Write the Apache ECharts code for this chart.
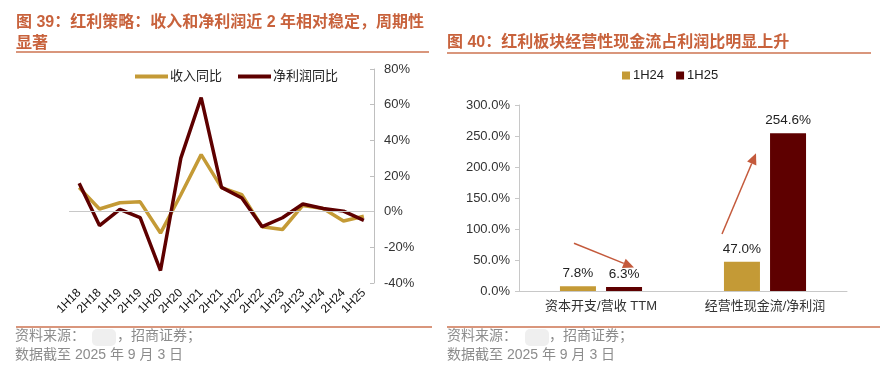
<!DOCTYPE html>
<html><head><meta charset="utf-8">
<script src="https://cdn.jsdelivr.net/npm/echarts@6/dist/echarts.min.js"></script>
<style>html,body{margin:0;padding:0;background:#fff}#c{width:896px;height:373px}</style>
</head><body><div id="c"></div>
<script>
// ---- data ----
var periods = ['1H18','2H18','1H19','2H19','1H20','2H20','1H21','2H21','1H22','2H22','1H23','2H23','1H24','2H24','1H25'];
var revenueYoY = [13.5, 1.5, 5.0, 5.5, -12, 9.5, 32, 13.5, 9.5, -8.5, -10, 3.5, 1.8, -5.2, -2.6];
var profitYoY  = [16, -7.8, 1.3, -3.4, -33, 30, 64, 13.6, 7.7, -8.4, -3.4, 4.3, 1.8, 0.3, -4.9];
var leftTicks = {min: -40, max: 80, interval: 20};

var metrics = ['资本开支/营收 TTM', '经营性现金流/净利润'];
var v1H24 = [7.8, 47.0];
var v1H25 = [6.3, 254.6];
var rightTicks = {min: 0, max: 300, interval: 50};

var GOLD = '#C49A36', RED = '#5E0000', TITLE = '#C8623C', RULE = '#D9967C';
var FONT = 'Liberation Sans, Noto Sans CJK SC, sans-serif';
var FOOT = '#8c8c8c';

var chart = echarts.init(document.getElementById('c'));
var option = {
  animation: false,
  textStyle: {fontFamily: FONT},
  graphic: [
    {type:'text', left:16, top:15, style:{text:'图 39：红利策略：收入和净利润近 2 年相对稳定，周期性', fill:TITLE, font:'bold 16px ' + FONT}},
    {type:'text', left:16, top:36, style:{text:'显著', fill:TITLE, font:'bold 16px ' + FONT}},
    {type:'line', shape:{x1:16,y1:52,x2:429,y2:52}, style:{stroke:RULE, lineWidth:2}},
    {type:'text', left:447, top:35, style:{text:'图 40：红利板块经营性现金流占利润比明显上升', fill:TITLE, font:'bold 16px ' + FONT}},
    {type:'line', shape:{x1:447,y1:53,x2:871,y2:53}, style:{stroke:RULE, lineWidth:2}},
    {type:'line', shape:{x1:16,y1:327,x2:432,y2:327}, style:{stroke:RULE, lineWidth:2}},
    {type:'line', shape:{x1:447,y1:327,x2:880,y2:327}, style:{stroke:RULE, lineWidth:2}},
    {type:'rect', shape:{x:92,y:329,width:24,height:17,r:5}, style:{fill:'#efefef'}},
    {type:'rect', shape:{x:525,y:329,width:24,height:17,r:5}, style:{fill:'#efefef'}},
    {type:'text', left:15, top:329, style:{text:'资料来源：', fill:FOOT, font:'14px ' + FONT}},
    {type:'text', left:117, top:329, style:{text:'，招商证券；', fill:FOOT, font:'14px ' + FONT}},
    {type:'text', left:15, top:348, style:{text:'数据截至 2025 年 9 月 3 日', fill:FOOT, font:'14px ' + FONT}},
    {type:'text', left:447, top:329, style:{text:'资料来源：', fill:FOOT, font:'14px ' + FONT}},
    {type:'text', left:549, top:329, style:{text:'，招商证券；', fill:FOOT, font:'14px ' + FONT}},
    {type:'text', left:447, top:348, style:{text:'数据截至 2025 年 9 月 3 日', fill:FOOT, font:'14px ' + FONT}}
  ],
  legend: [
    {left:130, top:65, itemWidth:33, itemHeight:4, itemGap:16, icon:'rect',
     textStyle:{fontSize:13, color:'#222', fontFamily:FONT, padding:[0,0,0,-3]},
     data:['收入同比','净利润同比']},
    {left:617, top:64, itemWidth:8, itemHeight:8, itemGap:12, icon:'rect',
     textStyle:{fontSize:13, color:'#222', fontFamily:FONT, padding:[0,0,0,-2]},
     data:['1H24','1H25']}
  ],
  grid: [
    {left:69, top:69, width:305, height:214},
    {left:519, top:105, width:328, height:186}
  ],
  xAxis: [
    {gridIndex:0, type:'category', data:periods, position:'bottom',
     axisLine:{show:false, onZero:false}, axisTick:{show:false},
     axisLabel:{rotate:45, fontSize:12, color:'#111', margin:8, interval:0}},
    {gridIndex:1, type:'category', data:metrics,
     axisLine:{lineStyle:{color:'#c8c8c8'}}, axisTick:{show:false},
     axisLabel:{fontSize:13, color:'#333', margin:9}}
  ],
  yAxis: [
    {gridIndex:0, type:'value', position:'right', min:leftTicks.min, max:leftTicks.max, interval:leftTicks.interval,
     axisLine:{show:true, lineStyle:{color:'#bfbfbf'}}, axisTick:{show:true, inside:true, length:4, lineStyle:{color:'#bfbfbf'}},
     splitLine:{show:false}, axisLabel:{formatter:'{value}%', fontSize:13, color:'#333', margin:10}},
    {gridIndex:1, type:'value', min:rightTicks.min, max:rightTicks.max, interval:rightTicks.interval,
     axisLine:{show:true, lineStyle:{color:'#c8c8c8'}}, axisTick:{show:true, length:4, lineStyle:{color:'#c8c8c8'}},
     splitLine:{show:false}, axisLabel:{formatter:function(v){return v.toFixed(1)+'%';}, fontSize:13, color:'#333', margin:9}}
  ],
  series: [
    {name:'收入同比', type:'line', xAxisIndex:0, yAxisIndex:0, data:revenueYoY, symbol:'none',
     lineStyle:{width:3.5, color:GOLD}, itemStyle:{color:GOLD},
     markLine:{silent:true, symbol:'none', label:{show:false}, lineStyle:{color:'#c8c8c8', width:1, type:'solid'}, data:[{yAxis:0}]}},
    {name:'净利润同比', type:'line', xAxisIndex:0, yAxisIndex:0, data:profitYoY, symbol:'none',
     lineStyle:{width:3.5, color:RED}, itemStyle:{color:RED}},
    {name:'1H24', type:'bar', xAxisIndex:1, yAxisIndex:1, data:v1H24, barWidth:36, barGap:'28%',
     itemStyle:{color:GOLD}, label:{show:true, position:'top', distance:6, fontSize:13.5, color:'#222', formatter:function(p){return p.value.toFixed(1)+'%';}}},
    {name:'1H25', type:'bar', xAxisIndex:1, yAxisIndex:1, data:v1H25, barWidth:36,
     itemStyle:{color:RED}, label:{show:true, position:'top', distance:6, fontSize:13.5, color:'#222', formatter:function(p){return p.value.toFixed(1)+'%';}}}
  ]
};
chart.setOption(option);

// annotation arrows, anchored to data coordinates of the right chart
function px(cat, val){ return chart.convertToPixel({xAxisIndex:1, yAxisIndex:1}, [cat, val]); }
function arrow(a, b, dxa, dxb){
  var x1=a[0]+dxa, y1=a[1], x2=b[0]+dxb, y2=b[1];
  var ang=Math.atan2(y2-y1, x2-x1), L=11, W=5;
  var bx=x2-L*Math.cos(ang), by=y2-L*Math.sin(ang);
  var nx=-Math.sin(ang), ny=Math.cos(ang);
  return [
    {type:'line', shape:{x1:x1,y1:y1,x2:bx,y2:by}, style:{stroke:'#C45A3C', lineWidth:1.5}},
    {type:'polygon', shape:{points:[[x2,y2],[bx+nx*W,by+ny*W],[bx-nx*W,by-ny*W]]}, style:{fill:'#C45A3C'}}
  ];
}
var g = [].concat(
  arrow(px(0, 77), px(0, 38), -27, 33),
  arrow(px(1, 92), px(1, 222), -43, -9)
);
chart.setOption({graphic: option.graphic.concat(g)});
</script></body></html>
